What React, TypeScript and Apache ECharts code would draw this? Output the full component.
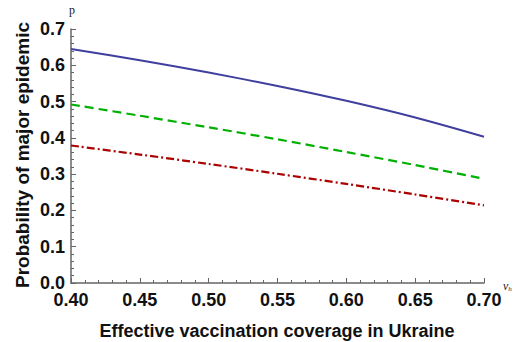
import React, { useEffect, useRef } from "react";
import * as echarts from "echarts";

const coverage = [0.4, 0.45, 0.5, 0.55, 0.6, 0.65, 0.7];
const solidBlue = [0.645, 0.614, 0.58, 0.543, 0.502, 0.456, 0.403];
const dashedGreen = [0.492, 0.461, 0.429, 0.396, 0.361, 0.325, 0.287];
const dashDotRed = [0.379, 0.354, 0.328, 0.301, 0.273, 0.244, 0.214];

const xTitle = "Effective vaccination coverage in Ukraine";
const yTitle = "Probability of major epidemic";

const pairs = (ys: number[]) => coverage.map((x, i) => [x, ys[i]]);

export default function App() {
  const ref = useRef<HTMLDivElement>(null);
  useEffect(() => {
    if (!ref.current) return;
    const chart = echarts.init(ref.current, undefined, { renderer: "svg" });
    const axisColor = "#666";
    const labelFont = {
      fontFamily: "Liberation Sans, Arial, sans-serif",
      fontWeight: "bold" as const,
      fontSize: 18,
      color: "#111",
    };
    const lineBase = { type: "line", smooth: 0.3, showSymbol: false };
    chart.setOption({
      animation: false,
      grid: { left: 71, right: 31, top: 29, bottom: 59 },
      xAxis: {
        type: "value",
        min: 0.4,
        max: 0.7,
        interval: 0.05,
        axisLine: { show: true, lineStyle: { color: axisColor, width: 1.5 } },
        axisTick: { show: true, inside: true, length: 5, lineStyle: { color: axisColor } },
        minorTick: { show: true, splitNumber: 5, length: 3, lineStyle: { color: axisColor } },
        splitLine: { show: false },
        axisLabel: { ...labelFont, margin: 8, formatter: (v: number) => v.toFixed(2) },
      },
      yAxis: {
        type: "value",
        min: 0,
        max: 0.7,
        interval: 0.1,
        axisLine: { show: true, lineStyle: { color: axisColor, width: 1.5 } },
        axisTick: { show: true, inside: true, length: 5, lineStyle: { color: axisColor } },
        minorTick: { show: true, splitNumber: 5, length: 3, lineStyle: { color: axisColor } },
        splitLine: { show: false },
        axisLabel: { ...labelFont, margin: 6, formatter: (v: number) => v.toFixed(1) },
      },
      series: [
        {
          ...lineBase,
          data: pairs(solidBlue),
          lineStyle: { color: "#3f3f9f", width: 2 },
        },
        {
          ...lineBase,
          data: pairs(dashedGreen),
          lineStyle: { color: "#00b000", width: 2.2, type: [9, 5] },
        },
        {
          ...lineBase,
          data: pairs(dashDotRed),
          lineStyle: { color: "#aa0000", width: 2.2, type: [8, 3, 2, 3] },
        },
      ],
      graphic: [
        {
          type: "text",
          x: 277,
          y: 331,
          style: {
            text: xTitle,
            fill: "#111",
            font: "bold 18px 'Liberation Sans', Arial, sans-serif",
            align: "center",
            verticalAlign: "middle",
          },
        },
        {
          type: "text",
          x: 22,
          y: 155,
          rotation: Math.PI / 2,
          style: {
            text: yTitle,
            fill: "#111",
            font: "bold 19px 'Liberation Sans', Arial, sans-serif",
            align: "center",
            verticalAlign: "middle",
          },
        },
        {
          type: "text",
          x: 69,
          y: 4,
          style: {
            text: "p",
            fill: "#222",
            font: "12px 'Liberation Serif', 'Times New Roman', serif",
          },
        },
        {
          type: "text",
          x: 503,
          y: 279,
          style: {
            text: "{v|v}{h|h}",
            rich: {
              v: { font: "italic 12px 'Liberation Serif', serif", fill: "#222" },
              h: { font: "italic 7px 'Liberation Serif', serif", fill: "#222", padding: [6, 0, 0, 0] },
            },
          },
        },
      ],
    });
    return () => chart.dispose();
  }, []);
  return (
    <div
      ref={ref}
      style={{ position: "fixed", left: 0, top: 0, width: 515, height: 342, background: "#fff" }}
    />
  );
}
